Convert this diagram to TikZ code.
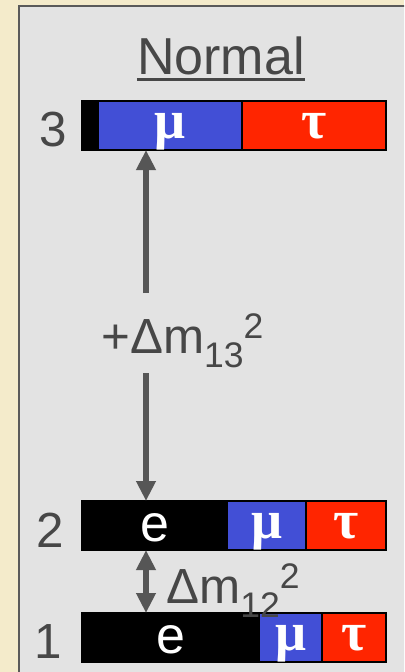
\documentclass[tikz,border=0pt]{standalone}
\usepackage{fontspec}
\setmainfont{Liberation Sans}
\newfontfamily\grkfont{Liberation Serif}
\usetikzlibrary{arrows.meta}
\definecolor{bgbeige}{HTML}{F4EBCB}
\definecolor{panelgray}{HTML}{E3E3E3}
\definecolor{framegray}{HTML}{5A5A5A}
\definecolor{txtgray}{HTML}{474747}
\definecolor{arrgray}{HTML}{565656}
\definecolor{numu}{HTML}{424FD6}
\definecolor{nutau}{HTML}{FF2500}
\newcommand{\dmsq}[1]{Δm\raisebox{-0.3em}{\scalebox{0.72}{#1}}\raisebox{0.3em}{\scalebox{0.72}{2}}}

\begin{document}
\begin{tikzpicture}[x=0.75pt, y=-0.75pt,
    sym/.style={midway, anchor=base, yshift=-9.4pt, inner sep=0pt, text=white, font=\fontsize{41}{41}\grkfont\bfseries},
    flav/.style={midway, anchor=base, yshift=-11.8pt, inner sep=0pt, text=white, font=\fontsize{39}{39}\selectfont},
    lvlnum/.style={anchor=base, inner sep=0pt, text=txtgray, font=\fontsize{37}{37}\selectfont},
    arr/.style={draw=arrgray, line width=4.5pt, -{Triangle[width=14pt,length=15pt]}}]
  \clip (0,0) rectangle (404,672);
  \fill[bgbeige] (0,0) rectangle (404,672);
  \draw[fill=panelgray, draw=framegray, line width=1.5pt] (19,6) rectangle (430,700);

  % title
  \node[lvlnum, font=\fontsize{39}{39}\selectfont] (ttl) at (221,74) {Normal};
  \draw[txtgray, line width=2.2pt] ([yshift=-3.8pt]ttl.base west) -- ([yshift=-3.8pt]ttl.base east);

  % mass state 3
  \node[lvlnum] (n3) at (53,146) {3};
  \draw[fill=black, line width=1pt] (82,101) rectangle (98,150);
  \draw[fill=numu, line width=1pt] (98,101) rectangle (242,150) node[sym] (mu3) {μ};
  \draw[fill=nutau, line width=1pt] (242,101) rectangle (386,150) node[sym] (tau3) {τ};

  % mass state 2
  \node[lvlnum] (n2) at (50,547) {2};
  \draw[fill=black, line width=1pt] (82,501) rectangle (227,550) node[flav] (e2) {e};
  \draw[fill=numu, line width=1pt] (227,501) rectangle (306,550) node[sym] (mu2) {μ};
  \draw[fill=nutau, line width=1pt] (306,501) rectangle (386,550) node[sym] (tau2) {τ};

  % mass state 1
  \node[lvlnum] (n1) at (48.5,658) {1};
  \draw[fill=black, line width=1pt] (82,613) rectangle (259,662) node[flav] (e1) {e};
  \draw[fill=numu, line width=1pt] (259,613) rectangle (322,662) node[sym] (mu1) {μ};
  \draw[fill=nutau, line width=1pt] (322,613) rectangle (386,662) node[sym] (tau1) {τ};

  % splittings
  \coordinate (top3) at (146,150);
  \coordinate (top2) at (146,501);
  \coordinate (bot2) at (146,550);
  \coordinate (top1) at (146,613);
  \coordinate (gapa) at (146,293);
  \coordinate (gapb) at (146,373);
  \draw[arr] (gapa) -- (top3);
  \draw[arr] (gapb) -- (top2);
  \draw[arr, {Triangle[width=14pt,length=15pt]}-{Triangle[width=14pt,length=15pt]}] (bot2) -- (top1);
  \node[lvlnum, anchor=base west] (d13) at (101,353) {+\dmsq{13}};
  \node[lvlnum, anchor=base west] (d12) at (166,603) {\dmsq{12}};
\end{tikzpicture}
\end{document}
